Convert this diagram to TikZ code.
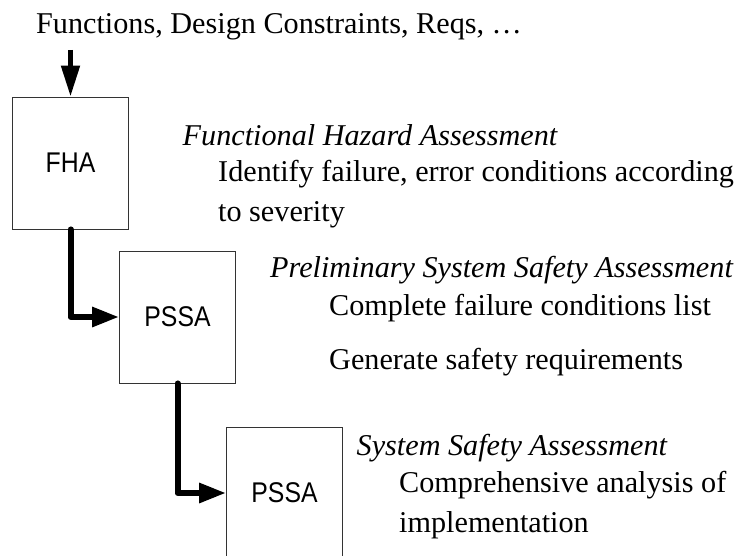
\documentclass[tikz,border=0pt]{standalone}
\usepackage{fontspec}
\setmainfont{Liberation Serif}
\newfontfamily\boxfont[FakeStretch=0.87]{Liberation Sans}
\usetikzlibrary{arrows.meta}

\begin{document}
\begin{tikzpicture}[x=1pt, y=-1pt,
    stagebox/.style={draw=black!80, line width=0.9pt, minimum width=116pt,
      minimum height=132pt, inner sep=0pt,
      font=\boxfont\fontsize{28.5}{32}\selectfont},
    txt/.style={anchor=base west, inner sep=0pt,
      font=\fontsize{30.2}{36}\selectfont},
    ttl/.style={txt, font=\fontsize{30.2}{36}\selectfont\itshape},
    flow/.style={line width=6pt, line join=round, line cap=round,
      -{Triangle[length=27pt, width=19pt]}},
    feed/.style={line width=5pt,
      -{Triangle[length=31pt, width=18pt]}}]
  \clip (0,0) rectangle (738,556);
  \fill[white] (0,0) rectangle (738,556);

  % incoming information
  \node[txt] (inputs) at (36,34) {Functions, Design Constraints, Reqs, \dots};

  % the three assessment stages
  \node[stagebox] (fha)   at (70.5,163)  {FHA};
  \node[stagebox] (pssa)  at (177.5,317) {PSSA};
  \node[stagebox] (ssa)   at (284.5,493) {PSSA};

  % feed arrow into the first stage
  \coordinate (feedstart) at (70.5,50);
  \draw[feed] (feedstart) -- (fha.north);

  % stage-to-stage connectors
  \draw[flow] (fha.south) |- (pssa.west);
  \draw[flow] (pssa.south) |- (ssa.west);

  % descriptions
  \node[ttl] (fhat)  at (182.5,146) {Functional Hazard Assessment};
  \node[txt] (fha1)  at (218,182)   {Identify failure, error conditions according};
  \node[txt] (fha2)  at (218,221)   {to severity};

  \node[ttl] (pssat) at (270,277)   {Preliminary System Safety Assessment};
  \node[txt] (pssa1) at (329,315)   {Complete failure conditions list};
  \node[txt] (pssa2) at (329,369)   {Generate safety requirements};

  \node[ttl] (ssat)  at (356.5,455) {System Safety Assessment};
  \node[txt] (ssa1)  at (399,492)   {Comprehensive analysis of};
  \node[txt] (ssa2)  at (399,532)   {implementation};
\end{tikzpicture}
\end{document}
